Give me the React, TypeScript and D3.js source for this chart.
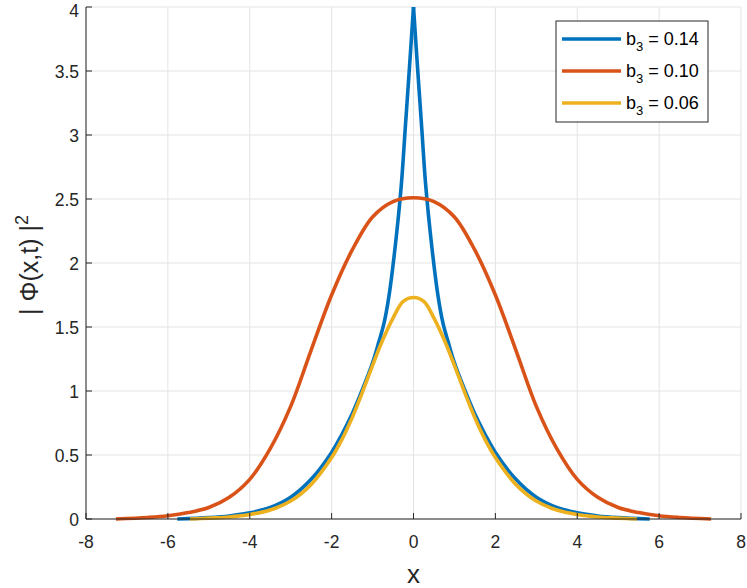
import React from "react";
import * as d3 from "d3";

const W = 747;
const H = 588;
const margin = { left: 86, right: 6, top: 7, bottom: 69 };

const xTicks = [-8, -6, -4, -2, 0, 2, 4, 6, 8];
const yTicks = [0, 0.5, 1, 1.5, 2, 2.5, 3, 3.5, 4];

// b3 = 0.14 (cusped peak)
const blueX = [-5.77, -5, -4.5, -4, -3.5, -3, -2.5, -2, -1.75, -1.5, -1.25, -1, -0.85, -0.72, -0.6, -0.45, -0.3, -0.2, -0.1, 0,
  0.1, 0.2, 0.3, 0.45, 0.6, 0.72, 0.85, 1, 1.25, 1.5, 1.75, 2, 2.5, 3, 3.5, 4, 4.5, 5, 5.77];
const blueY = [0, 0.011, 0.024, 0.048, 0.09, 0.17, 0.31, 0.52, 0.66, 0.82, 1.01, 1.22, 1.38, 1.53, 1.74, 2.12, 2.6, 3.06, 3.52, 4,
  3.52, 3.06, 2.6, 2.12, 1.74, 1.53, 1.38, 1.22, 1.01, 0.82, 0.66, 0.52, 0.31, 0.17, 0.09, 0.048, 0.024, 0.011, 0];

// b3 = 0.10 (flat top)
const redX = [-7.27, -6.5, -6, -5.5, -5, -4.5, -4, -3.5, -3, -2.5, -2, -1.5, -1, -0.5, 0,
  0.5, 1, 1.5, 2, 2.5, 3, 3.5, 4, 4.5, 5, 5.5, 6, 6.5, 7.27];
const redY = [0, 0.012, 0.025, 0.05, 0.09, 0.17, 0.31, 0.55, 0.88, 1.32, 1.75, 2.1, 2.36, 2.48, 2.51,
  2.48, 2.36, 2.1, 1.75, 1.32, 0.88, 0.55, 0.31, 0.17, 0.09, 0.05, 0.025, 0.012, 0];

// b3 = 0.06
const yellowX = [-5.46, -5, -4.5, -4, -3.5, -3, -2.5, -2, -1.75, -1.5, -1.25, -1, -0.75, -0.5, -0.25, 0,
  0.25, 0.5, 0.75, 1, 1.25, 1.5, 1.75, 2, 2.5, 3, 3.5, 4, 4.5, 5, 5.46];
const yellowY = [0, 0.007, 0.016, 0.035, 0.07, 0.14, 0.27, 0.48, 0.62, 0.79, 0.99, 1.2, 1.4, 1.57, 1.70, 1.73,
  1.70, 1.57, 1.4, 1.2, 0.99, 0.79, 0.62, 0.48, 0.27, 0.14, 0.07, 0.035, 0.016, 0.007, 0];

const legendLabels = ["0.14", "0.10", "0.06"];
const colors = ["#0072BD", "#D95319", "#EDB120"];

const font = "'Liberation Sans', Arial, Helvetica, sans-serif";
const ink = "#262626";

export default function App() {
  const x = d3.scaleLinear().domain([-8, 8]).range([margin.left, W - margin.right]);
  const y = d3.scaleLinear().domain([0, 4]).range([H - margin.bottom, margin.top]);

  const line = d3
    .line<[number, number]>()
    .x((d) => x(d[0]))
    .y((d) => y(d[1]))
    .curve(d3.curveCatmullRom.alpha(0.5));

  const zip = (xs: number[], ys: number[]) => xs.map((v, i) => [v, ys[i]] as [number, number]);

  const blue = zip(blueX, blueY);
  const peak = blueY.indexOf(d3.max(blueY) as number);
  // two halves so the tip stays sharp
  const bluePaths = [line(blue.slice(0, peak + 1)), line(blue.slice(peak))];
  const redPath = line(zip(redX, redY));
  const yellowPath = line(zip(yellowX, yellowY));

  const x0 = x(-8);
  const x1 = x(8);
  const y0 = y(0);
  const y1 = y(4);

  return (
    <svg width={W} height={H} style={{ position: "absolute", left: 0, top: 0, background: "#fff" }}>
      {/* grid */}
      <g stroke="#e3e3e3" strokeWidth={1}>
        {xTicks.map((t) => (
          <line key={"gx" + t} x1={x(t)} x2={x(t)} y1={y0} y2={y1} />
        ))}
        {yTicks.map((t) => (
          <line key={"gy" + t} x1={x0} x2={x1} y1={y(t)} y2={y(t)} />
        ))}
      </g>

      {/* curves */}
      <g fill="none" strokeWidth={3.6} strokeLinejoin="round">
        {bluePaths.map((p, i) => (
          <path key={"b" + i} d={p || ""} stroke={colors[0]} />
        ))}
        <path d={redPath || ""} stroke={colors[1]} />
        <path d={yellowPath || ""} stroke={colors[2]} />
      </g>

      {/* axes */}
      <g stroke={ink} strokeWidth={1}>
        <line x1={x0} x2={x1} y1={y0} y2={y0} />
        <line x1={x0} x2={x0} y1={y0} y2={y1} />
        {xTicks.map((t) => (
          <line key={"tx" + t} x1={x(t)} x2={x(t)} y1={y0} y2={y0 - 6} />
        ))}
        {yTicks.map((t) => (
          <line key={"ty" + t} x1={x0} x2={x0 + 6} y1={y(t)} y2={y(t)} />
        ))}
      </g>
      <g fontFamily={font} fontSize={17.5} fill={ink}>
        {xTicks.map((t) => (
          <text key={"lx" + t} x={x(t)} y={y0 + 29} textAnchor="middle">
            {t}
          </text>
        ))}
        {yTicks.map((t) => (
          <text key={"ly" + t} x={x0 - 7} y={Math.max(y(t), 10)} dy="0.38em" textAnchor="end">
            {t}
          </text>
        ))}
      </g>

      {/* axis titles */}
      <text x={x(0)} y={583} textAnchor="middle" fontFamily={font} fontSize={26} fill={ink}>
        x
      </text>
      <text
        transform={`translate(38, ${y(2) + 2}) rotate(-90)`}
        textAnchor="middle"
        fontFamily={font}
        fontSize={25}
        fill={ink}
      >
        | Φ(x,t) |<tspan fontSize={18} dy={-10}>2</tspan>
      </text>

      {/* legend */}
      <g>
        <rect x={556} y={21} width={152} height={101} fill="#fff" stroke={ink} strokeWidth={1} />
        {legendLabels.map((lab, i) => {
          const ly = 39 + i * 32;
          return (
            <g key={lab}>
              <line x1={562} x2={621} y1={ly} y2={ly} stroke={colors[i]} strokeWidth={3.6} />
              <text x={626} y={ly + 6} fontFamily={font} fontSize={18} fill="#000">
                b<tspan fontSize={13} dy={6}>3</tspan>
                <tspan dy={-6}> = {lab}</tspan>
              </text>
            </g>
          );
        })}
      </g>
    </svg>
  );
}
